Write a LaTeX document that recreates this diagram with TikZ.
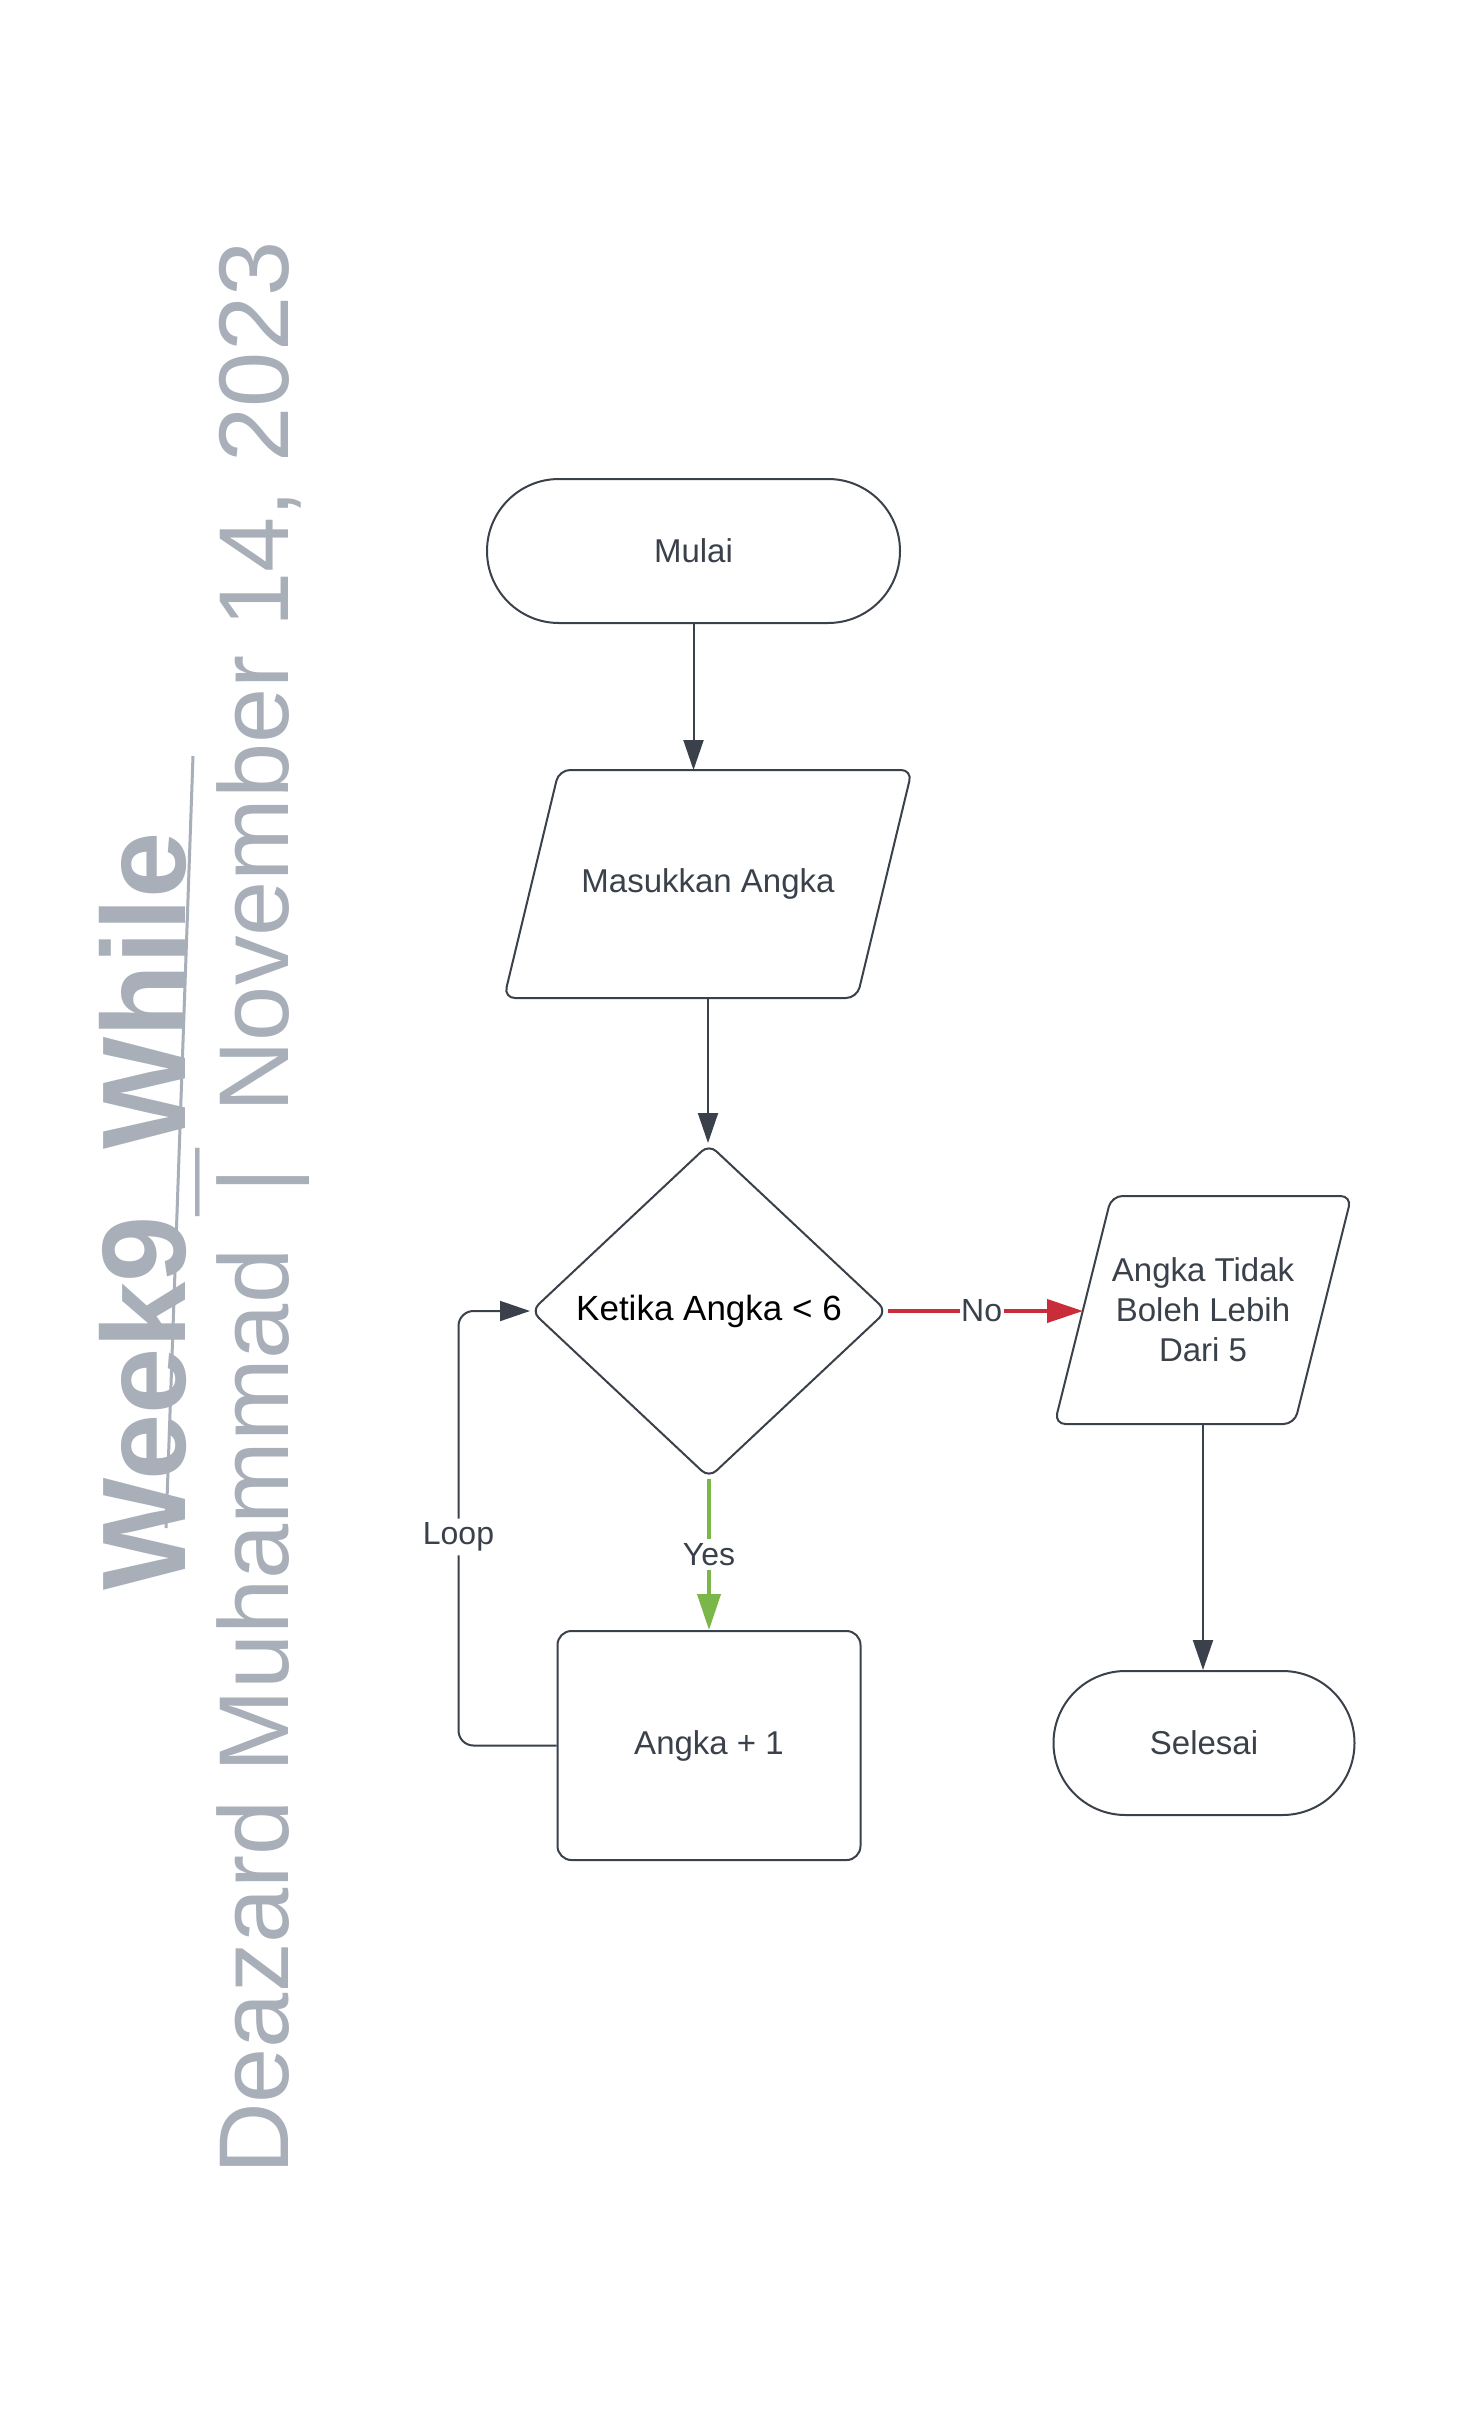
\documentclass[tikz,border=0pt]{standalone}
\usepackage{fontspec}
\setmainfont{Liberation Sans}
\usepackage{tikz}
\usetikzlibrary{shapes,shapes.geometric,shapes.misc,arrows.meta,positioning,calc}

\definecolor{linegray}{HTML}{3A414A}
\definecolor{titlegray}{HTML}{A8AFB8}
\definecolor{nored}{HTML}{C92D39}
\definecolor{yesgreen}{HTML}{7AB648}

\tikzset{
  base/.style={draw=linegray, line width=2pt, text=linegray, inner sep=0pt,
    font=\fontsize{33}{40}\selectfont, align=center},
  terminal/.style={base, rounded rectangle, minimum height=144pt},
  io/.style={base, draw=none, rectangle, minimum height=226pt},
  decision/.style={base, diamond, minimum width=356pt, minimum height=334pt,
    rounded corners=10pt, text=black, font=\fontsize{35}{42}\selectfont},
  process/.style={base, rectangle, minimum width=303pt, minimum height=229pt, rounded corners=14pt},
  arrow/.style={draw=linegray, line width=2pt, -{Triangle[length=30pt,width=20pt]}},
  colarrow/.style={draw=#1, line width=4pt, -{Triangle[length=36pt,width=23pt]}},
  lbl/.style={fill=white, text=linegray, inner sep=1.5pt, font=\fontsize{32}{40}\selectfont}
}

% outline of a slanted input box
\newcommand{\slantbox}[2]{%
  \draw[linegray, line width=2pt, rounded corners=11pt]
    ($(#1.north west)+(#2,0)$) -- ($(#1.north east)+(#2,0)$) --
    ($(#1.south east)-(#2,0)$) -- ($(#1.south west)-(#2,0)$) -- cycle;}

\begin{document}
\begin{tikzpicture}[x=1pt,y=-1pt]
  \fill[white] (0,0) rectangle (1463,2430);
  \useasboundingbox (0,0) rectangle (1463,2430);

  % title
  \node[rotate=90, anchor=base west, inner sep=0pt, text=titlegray,
    font=\bfseries\fontsize{119}{130}\selectfont] (judul) at (185,1591) {Week9\_While};
  \draw[titlegray, line width=3pt] (193,756) -- (166,1528);
  \node[rotate=90, anchor=base west, inner sep=0pt, text=titlegray,
    font=\fontsize{99.2}{110}\selectfont] (nama) at (288,2175) {Deazard Muhammad\ \ |\ \ November 14, 2023};

  % shapes
  \node[terminal, minimum width=413pt] (mulai) at (693.5,551) {Mulai};
  \node[io, minimum width=351pt] (masuk) at (708,884) {Masukkan Angka};
  \slantbox{masuk}{27.5}
  \node[decision] (ketika) at (709,1311) {Ketika Angka < 6};
  \node[io, minimum width=238pt] (tidak) at (1203,1310) {Angka Tidak\\Boleh Lebih\\Dari 5};
  \slantbox{tidak}{28.5}
  \node[process] (tambah) at (709,1745.5) {Angka + 1};
  \node[terminal, minimum width=301pt] (selesai) at (1204,1743) {Selesai};

  % connectors
  \draw[arrow] (mulai.south) -- (mulai.south |- masuk.north);
  \draw[arrow] (masuk.south) -- (masuk.south |- ketika.north);
  \draw[colarrow=nored] (ketika.east) -- node[lbl, pos=0.48] {No} (ketika.east -| tidak.west);
  \draw[colarrow=yesgreen] (ketika.south) -- node[lbl, inner sep=4pt] {Yes} (tambah.north);
  \draw[arrow, rounded corners=15pt] (tambah.west) -- ++(-98,0) |- node[lbl, inner sep=4pt, pos=0.24] {Loop} (ketika.west);
  \draw[arrow] (tidak.south) -- (tidak.south |- selesai.north);
\end{tikzpicture}
\end{document}
